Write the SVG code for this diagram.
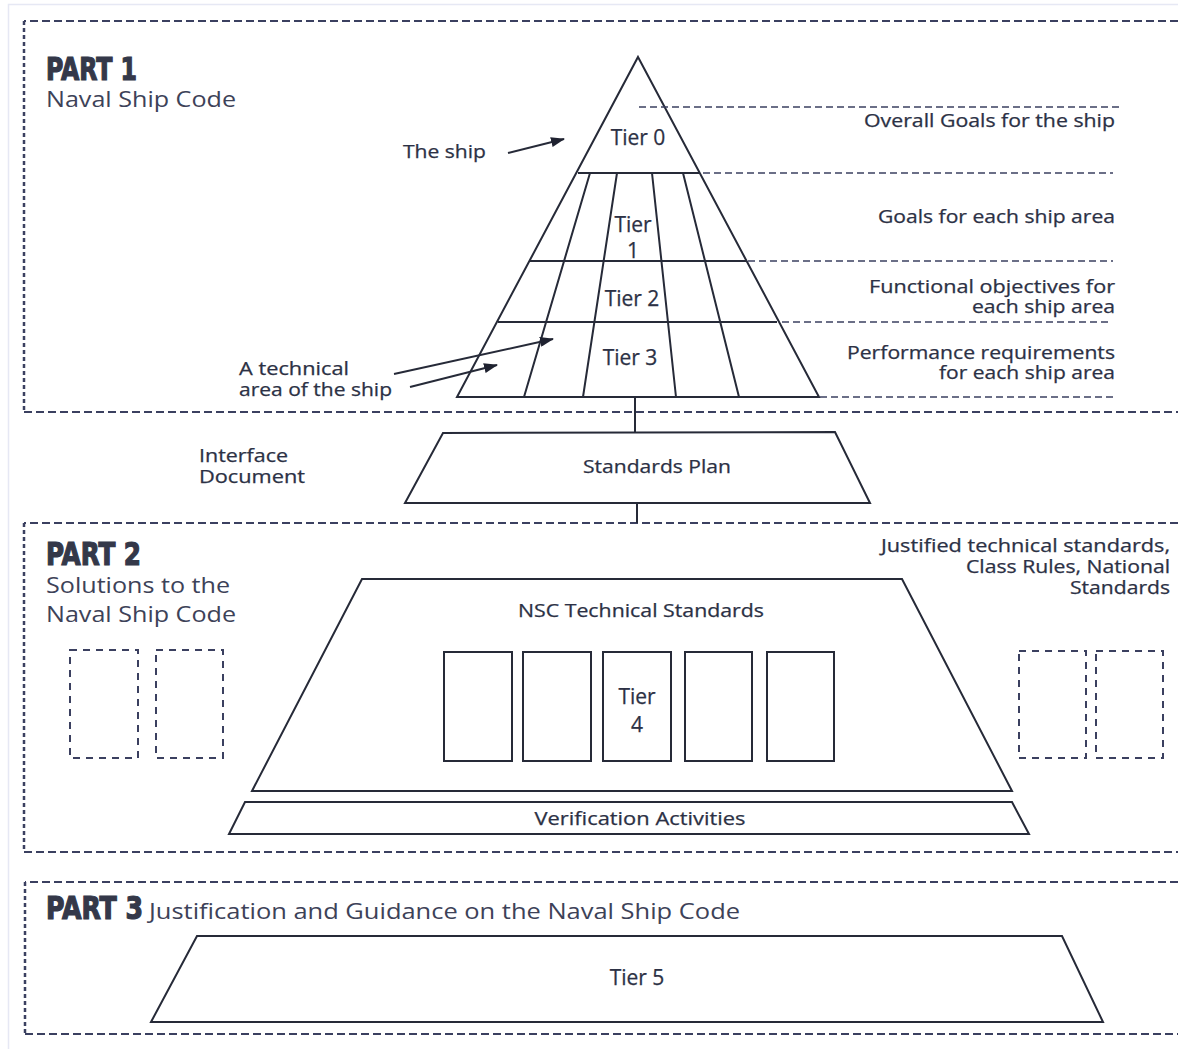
<svg xmlns="http://www.w3.org/2000/svg" width="1178" height="1049" viewBox="0 0 1178 1049">
<defs>
<marker id="ah" viewBox="0 0 14 10" refX="13" refY="5" markerWidth="14" markerHeight="10" markerUnits="userSpaceOnUse" orient="auto">
<path d="M0,0 L14,5 L0,10 z" fill="#1f2230"/>
</marker>
<style>
.t{font-family:"Open Sans","Noto Sans","Liberation Sans",sans-serif;fill:#2c3145;font-size:18px;stroke:#2c3145;stroke-width:0.25}
.big{font-size:21px}
.part{font-family:"Liberation Sans Narrow","DejaVu Sans Condensed","Liberation Sans",sans-serif;font-weight:bold;fill:#343849;font-size:32px;stroke:#343849;stroke-width:1.2}
.sub{font-family:"Open Sans","Noto Sans","Liberation Sans",sans-serif;fill:#3d4258;font-size:22px}
.shape{fill:#fff;stroke:#262a38;stroke-width:2;stroke-linejoin:miter}
.ln{stroke:#262a38;stroke-width:2;fill:none}
.frameH{stroke:#3b4060;stroke-width:2;fill:none;stroke-dasharray:8 4}
.frameV{stroke:#3b4060;stroke-width:2.5;fill:none;stroke-dasharray:4 3}
.guide{stroke:#3b4060;stroke-width:1.5;fill:none;stroke-dasharray:7 4}
.ph{fill:none;stroke:#3b4060;stroke-width:2;stroke-dasharray:7 6}
.mid{text-anchor:middle}
.end{text-anchor:end}
</style>
</defs>
<rect width="1178" height="1049" fill="#fff"/>
<path d="M8.5,1049 V4.5 H1178" stroke="#e6e8f4" stroke-width="1.5" fill="none"/>

<g id="part1-frame">
<path class="frameH" d="M1178,21 H24"/>
<path class="frameV" d="M24,21 V412"/>
<path class="frameH" d="M24,412 H1178"/>
<text class="part" x="46" y="80" textLength="91" lengthAdjust="spacingAndGlyphs">PART 1</text>
<text class="sub" x="46" y="107" textLength="190" lengthAdjust="spacingAndGlyphs">Naval Ship Code</text>
</g>

<g id="pyramid">
<path class="shape" d="M638,57 L819,397 L457,397 Z"/>
<path class="ln" d="M578,173 H699 M530,261 H746 M498,322 H777"/>
<path class="ln" d="M590,173 L524,397 M617,173 L583,397 M652,173 L676,397 M683,173 L739,397"/>
<text class="t big mid" x="638" y="145">Tier 0</text>
<text class="t big mid" x="633" y="232">Tier</text>
<text class="t big mid" x="633" y="258">1</text>
<text class="t big mid" x="632" y="306">Tier 2</text>
<text class="t big mid" x="630" y="365">Tier 3</text>
</g>

<g id="tier-guides">
<path class="guide" d="M639,107 H1120 M703,173 H1113 M748,261 H1113 M782,322 H1108 M820,397 H1113"/>
<text class="t end" x="1115" y="127" textLength="251" lengthAdjust="spacingAndGlyphs">Overall Goals for the ship</text>
<text class="t end" x="1115" y="223" textLength="237" lengthAdjust="spacingAndGlyphs">Goals for each ship area</text>
<text class="t end" x="1115" y="293" textLength="246" lengthAdjust="spacingAndGlyphs">Functional objectives for</text>
<text class="t end" x="1115" y="313" textLength="143" lengthAdjust="spacingAndGlyphs">each ship area</text>
<text class="t end" x="1115" y="359" textLength="268" lengthAdjust="spacingAndGlyphs">Performance requirements</text>
<text class="t end" x="1115" y="379" textLength="176" lengthAdjust="spacingAndGlyphs">for each ship area</text>
</g>

<g id="label-ship">
<text class="t" x="403" y="158" textLength="83" lengthAdjust="spacingAndGlyphs">The ship</text>
</g>
<g id="label-technical-area">
<text class="t" x="239" y="375" textLength="110" lengthAdjust="spacingAndGlyphs">A technical</text>
<text class="t" x="239" y="396" textLength="153" lengthAdjust="spacingAndGlyphs">area of the ship</text>
</g>
<g id="label-interface">
<text class="t" x="199" y="462" textLength="89" lengthAdjust="spacingAndGlyphs">Interface</text>
<text class="t" x="199" y="483" textLength="106" lengthAdjust="spacingAndGlyphs">Document</text>
</g>

<g id="standards-plan">
<path class="shape" d="M443,433 L835,432 L870,503 L405,503 Z"/>
<text class="t mid" x="657" y="473" textLength="148" lengthAdjust="spacingAndGlyphs">Standards Plan</text>
</g>

<g id="part2-frame">
<path class="frameH" d="M1178,523 H24"/>
<path class="frameV" d="M24,523 V852"/>
<path class="frameH" d="M24,852 H1178"/>
<text class="part" x="46" y="565" textLength="95" lengthAdjust="spacingAndGlyphs">PART 2</text>
<text class="sub" x="46" y="593" textLength="184" lengthAdjust="spacingAndGlyphs">Solutions to the</text>
<text class="sub" x="46" y="622" textLength="190" lengthAdjust="spacingAndGlyphs">Naval Ship Code</text>
<text class="t end" x="1170" y="552" textLength="289" lengthAdjust="spacingAndGlyphs">Justified technical standards,</text>
<text class="t end" x="1170" y="573" textLength="204" lengthAdjust="spacingAndGlyphs">Class Rules, National</text>
<text class="t end" x="1170" y="594" textLength="100" lengthAdjust="spacingAndGlyphs">Standards</text>
</g>

<g id="placeholders-left">
<rect class="ph" x="70" y="650" width="68" height="108"/>
<rect class="ph" x="156" y="650" width="67" height="108"/>
</g>
<g id="placeholders-right">
<rect class="ph" x="1019" y="651" width="67" height="107"/>
<rect class="ph" x="1096" y="651" width="67" height="107"/>
</g>

<g id="nsc-technical-standards">
<path class="shape" d="M362,579 L902,579 L1012,791 L252,791 Z"/>
<text class="t mid" x="641" y="617" textLength="246" lengthAdjust="spacingAndGlyphs">NSC Technical Standards</text>
<rect class="shape" x="444" y="652" width="68" height="109"/>
<rect class="shape" x="523" y="652" width="68" height="109"/>
<rect class="shape" x="603" y="652" width="68" height="109"/>
<rect class="shape" x="685" y="652" width="67" height="109"/>
<rect class="shape" x="767" y="652" width="67" height="109"/>
<text class="t big mid" x="637" y="704">Tier</text>
<text class="t big mid" x="637" y="732">4</text>
</g>

<g id="verification-activities">
<path class="shape" d="M245,802 L1012,802 L1029,834 L229,834 Z"/>
<text class="t mid" x="640" y="825" textLength="211" lengthAdjust="spacingAndGlyphs">Verification Activities</text>
</g>

<g id="part3-frame">
<path class="frameH" d="M1178,882 H25"/>
<path class="frameV" d="M25,882 V1034"/>
<path class="frameH" d="M25,1034 H1178"/>
<text class="part" x="46" y="919" textLength="97" lengthAdjust="spacingAndGlyphs">PART 3</text>
<text class="sub" x="149" y="919" textLength="591" lengthAdjust="spacingAndGlyphs">Justification and Guidance on the Naval Ship Code</text>
</g>

<g id="tier5">
<path class="shape" d="M197,936 L1062,936 L1103,1022 L151,1022 Z"/>
<text class="t big mid" x="637" y="985">Tier 5</text>
</g>

<g id="connectors">
<line class="ln" x1="508" y1="153" x2="564" y2="139" marker-end="url(#ah)"/>
<line class="ln" x1="394" y1="374" x2="553" y2="339" marker-end="url(#ah)"/>
<line class="ln" x1="410" y1="387" x2="497" y2="365" marker-end="url(#ah)"/>
<line class="ln" x1="635" y1="397" x2="635" y2="433"/>
<line class="ln" x1="637" y1="503" x2="637" y2="523"/>
</g>
</svg>
